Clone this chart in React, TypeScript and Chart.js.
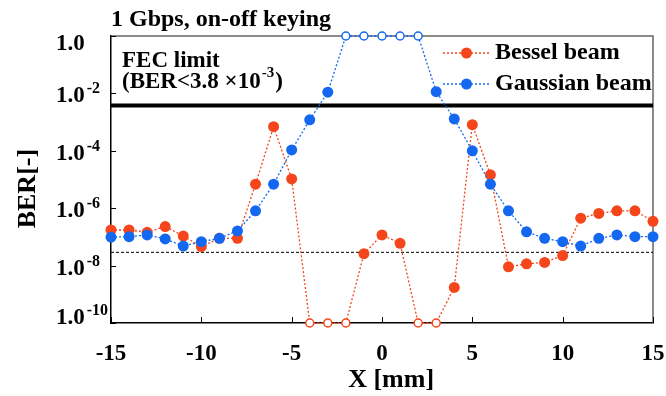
import React, { useEffect, useRef } from 'react';
import { Chart, registerables } from 'chart.js';

Chart.register(...registerables);

// ---------- data ----------
const xPositions = [-15, -14, -13, -12, -11, -10, -9, -8, -7, -6, -5, -4, -3, -2, -1, 0, 1, 2, 3, 4, 5, 6, 7, 8, 9, 10, 11, 12, 13, 14, 15];
const besselBER = [
  1.74e-7, 1.74e-7, 1.45e-7, 2.3e-7, 1.07e-7, 4.6e-8, 8.9e-8, 8.9e-8, 6.9e-6, 6.9e-4, 1.05e-5,
  1e-10, 1e-10, 1e-10, 2.6e-8, 1.17e-7, 6.0e-8, 1e-10, 1e-10, 1.74e-9, 8.1e-4, 1.45e-5,
  9.1e-9, 1.15e-8, 1.29e-8, 2.24e-8, 4.5e-7, 6.6e-7, 8.1e-7, 8.1e-7, 3.5e-7,
];
const gaussianBER = [
  9.8e-8, 1.02e-7, 1.17e-7, 8.5e-8, 4.8e-8, 6.8e-8, 8.9e-8, 1.62e-7, 8.1e-7, 6.9e-6, 1.07e-4,
  1.2e-3, 1.1e-2, 1, 1, 1, 1, 1, 1.15e-2, 1.29e-3, 1.0e-4, 6.9e-6,
  8.1e-7, 1.5e-7, 8.9e-8, 6.8e-8, 4.8e-8, 8.9e-8, 1.17e-7, 1.02e-7, 1.02e-7,
];
const yTickValues = [1e-10, 1e-8, 1e-6, 1e-4, 1e-2, 1];
const xTickValues = [-15, -10, -5, 0, 5, 10, 15];
const fecLimit = 3.8e-3;
const referenceLevel = 2.9e-8;
const seriesLabels = ['Bessel beam', 'Gaussian beam'];
const titleText = '1 Gbps, on-off keying';
const fecLines = ['FEC limit', '(BER<3.8 \u00d710', '-3', ')'];
const xTitle = 'X [mm]';
const yTitle = 'BER[-]';

// ---------- styles ----------
const SERIF = '"Liberation Serif", "Times New Roman", serif';
const bold = (size: number) => `bold ${size}px ${SERIF}`;
const besselColor = '#f4461a';
const gaussianColor = '#1468f0';
const Y_MIN = yTickValues[0];
const Y_MAX = yTickValues[yTickValues.length - 1];

const isOpen = (ctx: any) => {
  const v = ctx.raw && ctx.raw.y;
  return v !== undefined && (v <= Y_MIN || v >= Y_MAX);
};

function seriesDataset(label: string, values: number[], color: string, order: number) {
  return {
    label,
    data: xPositions.map((x, i) => ({ x, y: values[i] })),
    borderColor: color,
    borderWidth: 1.3,
    borderDash: [2, 2],
    pointRadius: (ctx: any) => (isOpen(ctx) ? 4 : 5.5),
    pointBorderWidth: (ctx: any) => (isOpen(ctx) ? 1.5 : 0),
    pointBackgroundColor: (ctx: any) => (isOpen(ctx) ? '#ffffff' : color),
    pointBorderColor: color,
    clip: false as any,
    order,
  };
}

const decorPlugin = {
  id: 'decor',
  beforeDatasetsDraw(chart: any) {
    const { ctx, chartArea } = chart;
    const { left, right, top, bottom } = chartArea;
    const xs = chart.scales.x;
    const ys = chart.scales.y;
    ctx.save();
    // top & right frame
    ctx.strokeStyle = '#666';
    ctx.lineWidth = 1.5;
    ctx.beginPath();
    ctx.moveTo(left, top);
    ctx.lineTo(right, top);
    ctx.lineTo(right, bottom);
    ctx.stroke();
    // inside tick marks
    ctx.strokeStyle = '#000';
    ctx.lineWidth = 1;
    xTickValues.forEach((v) => {
      const px = Math.round(xs.getPixelForValue(v)) + 0.5;
      ctx.beginPath();
      ctx.moveTo(px, bottom);
      ctx.lineTo(px, bottom - 6);
      ctx.stroke();
    });
    yTickValues.forEach((v) => {
      const py = Math.round(ys.getPixelForValue(v)) + 0.5;
      ctx.beginPath();
      ctx.moveTo(left, py);
      ctx.lineTo(left + 5, py);
      ctx.stroke();
    });
    ctx.restore();
  },
  afterDraw(chart: any) {
    const { ctx, chartArea } = chart;
    const { left, right, top, bottom } = chartArea;
    const ys = chart.scales.y;
    ctx.save();
    ctx.fillStyle = '#000';
    ctx.textBaseline = 'alphabetic';
    ctx.textAlign = 'left';
    // y tick labels with superscript exponents
    yTickValues.forEach((v) => {
      const py = ys.getPixelForValue(v);
      const exp = Math.round(Math.log10(v));
      const baseline = Math.min(Math.max(py + 9, top + 14), bottom + 1);
      const baseX = left - 55;
      ctx.font = bold(23);
      ctx.fillText('1.0', baseX, baseline);
      const bw = ctx.measureText('1.0').width;
      if (exp !== 0) {
        ctx.font = bold(16);
        ctx.fillText(String(exp), baseX + bw + 2, baseline - 9);
      }
    });
    // FEC label
    const fx = left + 11;
    ctx.font = bold(23);
    ctx.fillText(fecLines[0], fx, top + 31);
    const b2 = top + 52;
    ctx.fillText(fecLines[1], fx, b2);
    const w = ctx.measureText(fecLines[1]).width;
    ctx.font = bold(15);
    ctx.fillText(fecLines[2], fx + w + 1, b2 - 11);
    const sw = ctx.measureText(fecLines[2]).width;
    ctx.font = bold(23);
    ctx.fillText(fecLines[3], fx + w + sw + 2, b2);
    // legend
    const legendItems = [
      { label: seriesLabels[0], color: besselColor, baseline: top + 23 },
      { label: seriesLabels[1], color: gaussianColor, baseline: top + 54 },
    ];
    const lx0 = right - 210;
    const lx1 = right - 163;
    legendItems.forEach((it) => {
      const ly = it.baseline - 6;
      ctx.strokeStyle = it.color;
      ctx.lineWidth = 1.5;
      ctx.setLineDash([2, 2]);
      ctx.beginPath();
      ctx.moveTo(lx0, ly);
      ctx.lineTo(lx1, ly);
      ctx.stroke();
      ctx.setLineDash([]);
      ctx.fillStyle = it.color;
      ctx.beginPath();
      ctx.arc((lx0 + lx1) / 2, ly, 5.5, 0, Math.PI * 2);
      ctx.fill();
      ctx.fillStyle = '#000';
      ctx.font = bold(24);
      ctx.fillText(it.label, lx1 + 5, it.baseline);
    });
    ctx.restore();
  },
};

export default function App() {
  const ref = useRef<HTMLCanvasElement | null>(null);
  useEffect(() => {
    if (!ref.current) return;
    const chart = new Chart(ref.current, {
      type: 'line',
      data: {
        datasets: [
          seriesDataset(seriesLabels[1], gaussianBER, gaussianColor, 1) as any,
          seriesDataset(seriesLabels[0], besselBER, besselColor, 2) as any,
          {
            label: 'FEC limit',
            data: [{ x: xTickValues[0], y: fecLimit }, { x: xTickValues[xTickValues.length - 1], y: fecLimit }],
            borderColor: '#000',
            borderWidth: 4,
            pointRadius: 0,
            order: 3,
          },
          {
            label: 'reference',
            data: [{ x: xTickValues[0], y: referenceLevel }, { x: xTickValues[xTickValues.length - 1], y: referenceLevel }],
            borderColor: '#000',
            borderWidth: 1,
            borderDash: [3, 2],
            pointRadius: 0,
            order: 4,
          },
        ],
      },
      options: {
        animation: false,
        responsive: false,
        events: [],
        layout: { padding: { left: 0, right: 13, top: 0, bottom: 0 } },
        plugins: {
          legend: { display: false },
          tooltip: { enabled: false },
          title: {
            display: true,
            text: titleText,
            align: 'start',
            fullSize: false,
            color: '#000',
            font: { family: SERIF, size: 24, weight: 'bold' },
            padding: { top: 5.5, bottom: 1.7 },
          },
        },
        scales: {
          x: {
            type: 'linear',
            min: xTickValues[0],
            max: xTickValues[xTickValues.length - 1],
            afterBuildTicks: (s: any) => {
              s.ticks = xTickValues.map((v) => ({ value: v }));
            },
            afterFit: (s: any) => {
              s.height = 73;
            },
            grid: { display: false, drawTicks: true, tickLength: 17 },
            border: { display: true, color: '#000', width: 1.5 },
            ticks: {
              color: '#000',
              padding: 0,
              font: { family: SERIF, size: 23, weight: 'bold' },
              callback: (v: any) => String(v),
              maxRotation: 0,
            },
            title: {
              display: true,
              text: '\u2002\u2009' + xTitle,
              color: '#000',
              font: { family: SERIF, size: 26, weight: 'bold' },
              padding: { top: 0, bottom: 0 },
            },
          },
          y: {
            type: 'logarithmic',
            min: Y_MIN,
            max: Y_MAX,
            afterBuildTicks: (s: any) => {
              s.ticks = yTickValues.map((v) => ({ value: v }));
            },
            afterFit: (s: any) => {
              s.width = 111;
            },
            grid: { display: false, drawTicks: false },
            border: { display: true, color: '#000', width: 1.5 },
            ticks: { display: false },
            title: {
              display: true,
              text: yTitle + '\u2002\u2009',
              color: '#000',
              font: { family: SERIF, size: 26, weight: 'bold' },
              padding: { top: 13, bottom: 0 },
            },
          },
        },
      },
      plugins: [decorPlugin],
    } as any);
    return () => chart.destroy();
  }, []);
  return (
    <div style={{ position: 'absolute', left: 0, top: 0, width: 666, height: 396, background: '#fff' }}>
      <canvas ref={ref} width={666} height={396} />
    </div>
  );
}
